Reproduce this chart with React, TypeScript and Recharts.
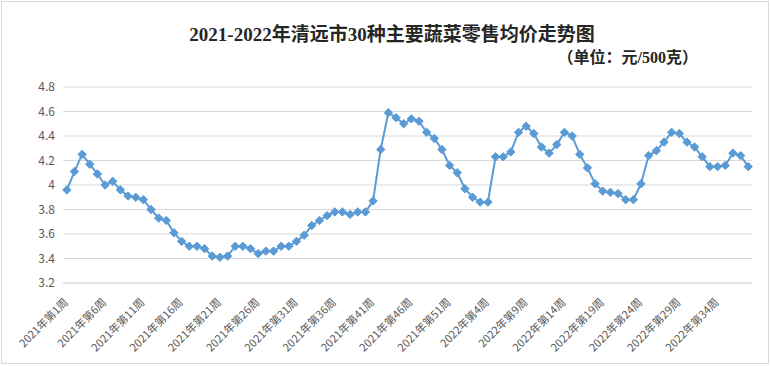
import React from 'react';
import { LineChart, Line, XAxis, YAxis, CartesianGrid } from 'recharts';

const TITLE = '2021-2022年清远市30种主要蔬菜零售均价走势图';
const UNIT = '（单位：元/500克）';

// weekly average price, 2021 week 1-52
const PRICES_2021 = [
    3.96, 4.11, 4.25, 4.17, 4.09, 4.00, 4.03, 3.96, 3.91, 3.90,
    3.88, 3.80, 3.73, 3.71, 3.61, 3.54, 3.50, 3.50, 3.48, 3.42,
    3.41, 3.42, 3.50, 3.50, 3.48, 3.44, 3.46, 3.46, 3.50, 3.50,
    3.54, 3.59, 3.67, 3.71, 3.75, 3.78, 3.78, 3.76, 3.78, 3.78,
    3.87, 4.29, 4.59, 4.55, 4.50, 4.54, 4.52, 4.43, 4.38, 4.29,
    4.16, 4.10
];

// 2022 week 1-38
const PRICES_2022 = [
    3.97, 3.90, 3.86, 3.86, 4.23, 4.23, 4.27, 4.43, 4.48, 4.42,
    4.31, 4.26, 4.33, 4.43, 4.40, 4.25, 4.14, 4.01, 3.95, 3.94,
    3.93, 3.88, 3.88, 4.01, 4.24, 4.28, 4.35, 4.43, 4.42, 4.35,
    4.31, 4.23, 4.15, 4.15, 4.16, 4.26, 4.24, 4.15
];

const WEEKS_2021 = PRICES_2021.map((_, i) => `2021年第${i + 1}周`);
const WEEKS_2022 = PRICES_2022.map((_, i) => `2022年第${i + 1}周`);

const Y_TICKS = [3.2, 3.4, 3.6, 3.8, 4.0, 4.2, 4.4, 4.6, 4.8];

const data = [
    ...WEEKS_2021.map((week, i) => ({ week, price: PRICES_2021[i] })),
    ...WEEKS_2022.map((week, i) => ({ week, price: PRICES_2022[i] }))
];

const BLUE = '#5b9bd5';
const LABEL_COLOR = '#595959';
const FONT = '"Noto Sans CJK SC", "Noto Sans", sans-serif';

const Diamond = (props: any) => {
    const { cx, cy } = props;
    if (cx == null || cy == null) return null;
    const r = 4.2;
    return (
        <path
            d={`M${cx},${cy - r} L${cx + r},${cy} L${cx},${cy + r} L${cx - r},${cy} Z`}
            fill={BLUE}
            stroke={BLUE}
            strokeWidth={1}
        />
    );
};

const WeekTick = (props: any) => {
    const { x, payload } = props;
    return (
        <g transform={`translate(${x + 2},${303})`}>
            <text
                x={0}
                y={0}
                textAnchor="end"
                transform="rotate(-45)"
                fontSize={11}
                fontFamily={FONT}
                fill={LABEL_COLOR}
            >
                {payload.value}
            </text>
        </g>
    );
};

const PriceTick = (props: any) => {
    const { y, payload } = props;
    return (
        <text
            x={55}
            y={y}
            dy={4}
            textAnchor="end"
            fontSize={12}
            fontFamily={FONT}
            fill={LABEL_COLOR}
        >
            {String(Math.round(payload.value * 10) / 10)}
        </text>
    );
};

const App = () => {
    return (
        <div style={{ position: 'fixed', left: 0, top: 0, width: 770, height: 366, background: '#fff' }}>
            <div
                style={{
                    position: 'absolute',
                    left: 1,
                    top: 1,
                    width: 766,
                    height: 361,
                    border: '1px solid #d9d9d9'
                }}
            />
            <div
                style={{
                    position: 'absolute',
                    left: 0,
                    top: 23,
                    width: 784,
                    textAlign: 'center',
                    fontFamily: '"Liberation Serif", "Noto Sans CJK SC", serif',
                    fontWeight: 'bold',
                    fontSize: 19,
                    lineHeight: '24px',
                    color: '#262626'
                }}
            >
                {TITLE}
            </div>
            <div
                style={{
                    position: 'absolute',
                    right: 72,
                    top: 48,
                    fontFamily: '"Liberation Serif", "Noto Sans CJK SC", serif',
                    fontWeight: 'bold',
                    fontSize: 16,
                    lineHeight: '20px',
                    color: '#262626'
                }}
            >
                {UNIT}
            </div>
            <LineChart
                width={770}
                height={366}
                data={data}
                margin={{ top: 87, right: 18, left: 0, bottom: 0 }}
                style={{ position: 'absolute', left: 0, top: 0 }}
            >
                <CartesianGrid vertical={false} stroke="#d9d9d9" strokeWidth={1} />
                <XAxis
                    dataKey="week"
                    interval={4}
                    height={83}
                    padding={{ left: 3.8, right: 3.8 }}
                    axisLine={{ stroke: '#d9d9d9' }}
                    tickLine={false}
                    tick={<WeekTick />}
                />
                <YAxis
                    width={63}
                    domain={[3.2, 4.8]}
                    ticks={Y_TICKS}
                    axisLine={false}
                    tickLine={false}
                    tick={<PriceTick />}
                />
                <Line
                    type="linear"
                    dataKey="price"
                    stroke={BLUE}
                    strokeWidth={2}
                    dot={<Diamond />}
                    activeDot={false}
                    isAnimationActive={false}
                />
            </LineChart>
        </div>
    );
};

export default App;
